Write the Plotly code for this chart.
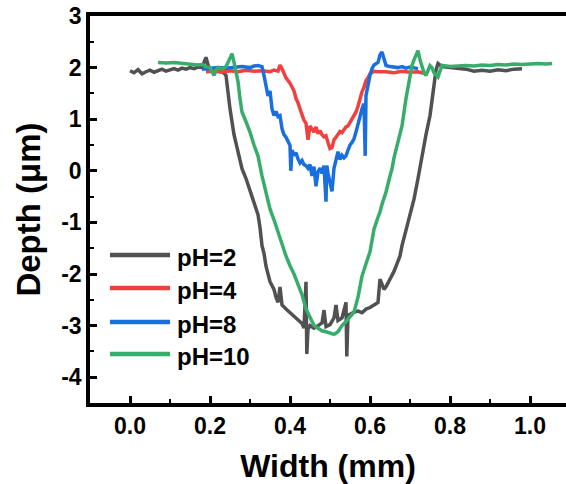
import plotly.graph_objects as go

# ---- data ----
x_ph2 = [0.00, 0.01, 0.02, 0.03, 0.04, 0.05, 0.06, 0.07, 0.08, 0.09, 0.10, 0.11, 0.12, 0.13, 0.14,
         0.15, 0.16, 0.17, 0.18, 0.19, 0.195, 0.20, 0.21, 0.22, 0.23, 0.24, 0.25, 0.26, 0.27, 0.28,
         0.29, 0.30, 0.31, 0.32, 0.325, 0.33, 0.335, 0.34, 0.35, 0.36, 0.365, 0.37, 0.375, 0.38,
         0.39, 0.40, 0.41, 0.42, 0.43, 0.435, 0.44, 0.442, 0.445, 0.45, 0.46, 0.47, 0.48, 0.485,
         0.49, 0.50, 0.51, 0.515, 0.52, 0.53, 0.54, 0.542, 0.545, 0.55, 0.56, 0.57, 0.58, 0.59,
         0.60, 0.61, 0.62, 0.625, 0.63, 0.635, 0.64, 0.65, 0.66, 0.67, 0.675, 0.68, 0.685, 0.69,
         0.70, 0.71, 0.72, 0.73, 0.74, 0.75, 0.755, 0.76, 0.765, 0.77, 0.78, 0.80, 0.82, 0.84,
         0.86, 0.88, 0.90, 0.92, 0.94, 0.96, 0.98]
y_ph2 = [1.94, 1.90, 1.96, 1.88, 1.92, 1.95, 1.91, 1.94, 1.97, 1.93, 1.96, 1.98, 1.95, 1.99, 1.97,
         2.00, 1.98, 2.01, 2.00, 2.20, 2.05, 1.97, 1.98, 1.95, 1.93, 1.85, 1.20, 0.70, 0.35, 0.04,
         -0.15, -0.40, -0.60, -0.85, -1.10, -1.45, -1.60, -1.85, -2.15, -2.30, -2.45, -2.55, -2.25, -2.60,
         -2.68, -2.75, -2.82, -2.90, -2.96, -3.05, -2.15, -3.55, -3.07, -3.00, -3.05, -3.00, -2.95, -2.70,
         -3.02, -2.98, -2.85, -2.60, -2.90, -2.85, -2.55, -3.60, -2.80, -2.78, -2.74, -2.72, -2.75, -2.68,
         -2.65, -2.60, -2.55, -2.10, -2.20, -2.30, -2.25, -2.10, -1.95, -1.75, -1.65, -1.45, -1.30, -1.15,
         -0.85, -0.55, -0.15, 0.30, 0.70, 1.07, 1.40, 1.73, 1.95, 2.08, 2.02, 2.00, 1.99, 1.97,
         1.93, 1.95, 1.93, 1.96, 1.94, 1.97, 1.98]

x_ph4 = [0.19, 0.21, 0.23, 0.25, 0.27, 0.29, 0.31, 0.33, 0.35, 0.36, 0.37, 0.375, 0.38, 0.385,
         0.39, 0.40, 0.405, 0.41, 0.415, 0.42, 0.425, 0.43, 0.435, 0.44, 0.445, 0.45, 0.455, 0.46,
         0.465, 0.47, 0.475, 0.48, 0.485, 0.49, 0.495, 0.50, 0.505, 0.51, 0.515, 0.52, 0.525, 0.53,
         0.535, 0.54, 0.545, 0.55, 0.555, 0.56, 0.565, 0.57, 0.575, 0.58, 0.585, 0.59, 0.595, 0.60,
         0.61, 0.62, 0.64, 0.66, 0.68, 0.70, 0.72, 0.74]
y_ph4 = [1.92, 1.93, 1.91, 1.94, 1.92, 1.95, 1.93, 1.94, 1.92, 1.95, 1.93, 2.05, 1.98, 1.88,
         1.80, 1.70, 1.62, 1.55, 1.40, 1.32, 1.20, 1.07, 0.98, 0.92, 0.60, 0.87, 0.80, 0.75,
         0.85, 0.72, 0.78, 0.70, 0.66, 0.68, 0.55, 0.43, 0.45, 0.60, 0.65, 0.72, 0.76, 0.74,
         0.80, 0.85, 0.87, 0.93, 1.00, 1.05, 1.14, 1.25, 1.40, 1.53, 1.62, 1.75, 1.80, 1.88,
         1.93, 1.92, 1.92, 1.90, 1.93, 1.91, 1.92, 1.88]

x_ph8 = [0.18, 0.20, 0.22, 0.24, 0.26, 0.28, 0.30, 0.31, 0.32, 0.33, 0.335, 0.34, 0.345, 0.35,
         0.355, 0.36, 0.365, 0.37, 0.375, 0.38, 0.385, 0.39, 0.395, 0.40, 0.402, 0.405, 0.41, 0.415,
         0.42, 0.425, 0.43, 0.435, 0.44, 0.445, 0.45, 0.455, 0.46, 0.465, 0.47, 0.475, 0.48, 0.485,
         0.49, 0.492, 0.495, 0.50, 0.505, 0.51, 0.515, 0.52, 0.525, 0.53, 0.535, 0.54, 0.545, 0.55,
         0.555, 0.56, 0.565, 0.57, 0.575, 0.58, 0.585, 0.588, 0.59, 0.595, 0.60, 0.605, 0.61, 0.62,
         0.625, 0.63, 0.635, 0.64, 0.65, 0.66, 0.67, 0.68, 0.69, 0.70, 0.72]
y_ph8 = [1.97, 1.98, 2.00, 1.99, 2.01, 2.02, 2.00, 2.03, 2.04, 2.02, 1.85, 1.60, 1.45, 1.55,
         1.20, 1.07, 1.15, 1.05, 1.07, 0.82, 0.70, 0.65, 0.55, 0.49, 0.00, 0.40, 0.30, 0.35,
         0.23, 0.15, 0.20, 0.12, 0.10, 0.05, 0.12, -0.10, 0.08, -0.30, -0.02, 0.05, -0.05, 0.10,
         -0.60, 0.10, -0.05, -0.20, -0.40, 0.05, 0.25, 0.37, 0.22, 0.30, 0.25, 0.29, 0.40, 0.50,
         0.55, 0.62, 0.75, 0.90, 1.07, 1.20, 1.30, 0.29, 1.46, 1.70, 1.85, 1.98, 2.05, 2.10,
         2.25, 2.30, 2.15, 2.04, 2.02, 2.01, 2.00, 2.02, 1.99, 2.01, 1.98]

x_ph10 = [0.07, 0.09, 0.11, 0.13, 0.15, 0.17, 0.18, 0.19, 0.20, 0.21, 0.215, 0.22, 0.23, 0.24,
          0.245, 0.25, 0.255, 0.26, 0.265, 0.27, 0.275, 0.28, 0.29, 0.30, 0.31, 0.32, 0.33, 0.34,
          0.35, 0.36, 0.37, 0.375, 0.38, 0.39, 0.40, 0.41, 0.42, 0.43, 0.44, 0.45, 0.46, 0.47,
          0.48, 0.49, 0.50, 0.51, 0.52, 0.53, 0.54, 0.55, 0.56, 0.57, 0.58, 0.59, 0.60, 0.605,
          0.61, 0.62, 0.625, 0.63, 0.64, 0.65, 0.655, 0.66, 0.67, 0.68, 0.69, 0.70, 0.705, 0.71,
          0.715, 0.72, 0.725, 0.73, 0.735, 0.74, 0.745, 0.75, 0.755, 0.76, 0.77, 0.775, 0.78, 0.80,
          0.82, 0.84, 0.86, 0.88, 0.90, 0.92, 0.94, 0.96, 0.98, 1.00, 1.02, 1.04, 1.055]
y_ph10 = [2.10, 2.09, 2.10, 2.08, 2.07, 2.05, 2.06, 2.02, 2.00, 1.85, 1.95, 2.00, 1.97, 2.02,
          2.10, 2.20, 2.27, 2.10, 1.90, 1.73, 1.40, 1.14, 0.95, 0.75, 0.50, 0.29, -0.10, -0.40,
          -0.74, -0.95, -1.20, -1.32, -1.45, -1.65, -1.84, -2.00, -2.20, -2.40, -2.68, -2.85, -3.00, -3.05,
          -3.10, -3.12, -3.15, -3.17, -3.12, -3.00, -2.92, -2.82, -2.74, -2.45, -2.04, -1.80, -1.57, -1.35,
          -1.13, -0.90, -0.80, -0.65, -0.41, -0.10, 0.04, 0.25, 0.55, 0.87, 1.40, 1.80, 2.04, 2.15,
          2.25, 2.33, 2.15, 2.00, 1.90, 1.85, 1.95, 2.04, 2.00, 1.90, 1.82, 1.95, 2.04, 2.02,
          2.03, 2.04, 2.03, 2.05, 2.04, 2.06, 2.05, 2.07, 2.06, 2.07, 2.08, 2.07, 2.08]

series_names = ["pH=2", "pH=4", "pH=8", "pH=10"]
series_colors = ["#515151", "#F14040", "#1A6FDF", "#37AD6B"]
series_x = [x_ph2, x_ph4, x_ph8, x_ph10]
series_y = [y_ph2, y_ph4, y_ph8, y_ph10]

x_tickvals = [0.0, 0.2, 0.4, 0.6, 0.8, 1.0]
x_ticktext = ["0.0", "0.2", "0.4", "0.6", "0.8", "1.0"]
y_tickvals = [-4, -3, -2, -1, 0, 1, 2, 3]
y_ticktext = ["-4", "-3", "-2", "-1", "0", "1", "2", "3"]

FONT = "Arial, Liberation Sans, sans-serif"

fig = go.Figure()
for name, col, xs, ys in zip(series_names, series_colors, series_x, series_y):
    fig.add_trace(go.Scatter(x=xs, y=ys, mode="lines", name=name,
                             line=dict(color=col, width=3.5), showlegend=False))

# manual legend (long line samples like the reference)
leg_py = [255, 288, 322, 354]
plot_l, plot_t, plot_b, plot_w = 90, 16, 403, 476
plot_h = plot_b - plot_t
shapes, annos = [], []
for name, col, py in zip(series_names, series_colors, leg_py):
    yp = (plot_b - py) / plot_h
    shapes.append(dict(type="line", xref="paper", yref="paper",
                       x0=(110 - plot_l) / plot_w, x1=(170 - plot_l) / plot_w,
                       y0=yp, y1=yp, line=dict(color=col, width=4.5)))
    annos.append(dict(xref="paper", yref="paper", x=(175 - plot_l) / plot_w, y=(plot_b - py - 2) / plot_h,
                      text=name, showarrow=False, xanchor="left", yanchor="middle",
                      font=dict(family=FONT, size=24, color="black", weight="bold")))

fig.update_layout(
    width=566, height=484,
    margin=dict(l=plot_l, r=0, t=plot_t, b=484 - plot_b),
    paper_bgcolor="white", plot_bgcolor="white",
    shapes=shapes, annotations=annos,
    xaxis=dict(range=[-0.1, 1.09], tickvals=x_tickvals, ticktext=x_ticktext,
               showgrid=False, zeroline=False, showline=True, linewidth=3.5, linecolor="black",
               mirror=True, ticks="inside", ticklen=7, tickwidth=3, tickcolor="black",
               minor=dict(dtick=0.1, tick0=0.1, ticks="inside", ticklen=4, tickwidth=2, tickcolor="black", showgrid=False),
               tickfont=dict(family=FONT, size=23, color="black", weight="bold"),
               title=dict(text="Width (mm)", standoff=18,
                          font=dict(family=FONT, size=32, color="black", weight="bold"))),
    yaxis=dict(range=[-4.5, 3], tickvals=y_tickvals, ticktext=y_ticktext,
               showgrid=False, zeroline=False, showline=True, linewidth=3.5, linecolor="black",
               mirror=False, ticks="inside", ticklen=7, tickwidth=3, tickcolor="black",
               minor=dict(dtick=0.5, tick0=0.5, ticks="inside", ticklen=4, tickwidth=2, tickcolor="black", showgrid=False),
               tickfont=dict(family=FONT, size=23, color="black", weight="bold"),
               title=dict(text="Depth (μm)", standoff=12,
                          font=dict(family=FONT, size=33, color="black", weight="bold"))),
)

fig.write_html("out.html")
